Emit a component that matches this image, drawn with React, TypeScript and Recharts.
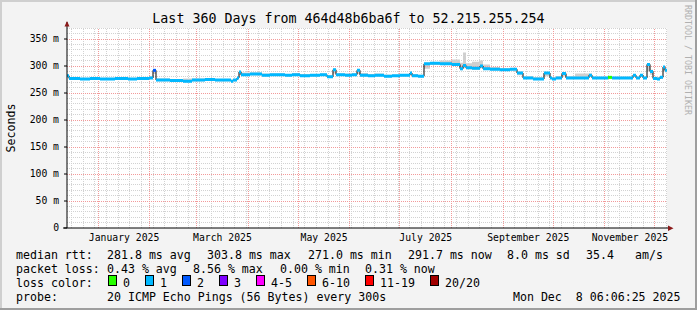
import React from 'react'
import { ComposedChart, Line, Area, XAxis, YAxis, CartesianGrid, ReferenceLine } from 'recharts'

// day 0 = 360 days before Mon Dec 8 2025 06:06:25
const stepDays = [
  0, 1.2, 7.8, 13.8, 19.8, 28.8, 36.6, 42, 49.2, 51.6, 53.4, 61.8, 69.6, 75, 82.8, 88.8,
  98.4, 99.6, 102, 103.2, 104.4, 109.8, 117, 121.8, 130.8, 135, 139.8, 145.8, 151.8, 156,
  159.6, 161.4, 166.8, 171, 174, 175.8, 180.6, 184.8, 190.2, 195, 199.8, 205.8, 207, 210.6,
  214.2, 217.8, 223.8, 231, 235.8, 237.6, 239.4, 243, 247.8, 249.6, 253.8, 259.8, 265.8,
  270, 273.6, 279.6, 286.2, 289.8, 291, 293.4, 297, 299.4, 304.8, 313.2, 315, 319.8, 324.6,
  327, 339.6, 341.4, 343.8, 345.6, 348, 349.8, 351.6, 354, 355.8, 357.6, 358.8,
]
const medianMs = [
  282, 277, 276, 277, 276, 277, 276, 277, 278, 292, 274, 273, 272, 274, 275, 274,
  272, 274, 278, 289, 284, 285, 283, 284, 283, 284, 282, 283, 284, 280,
  293, 284, 283, 284, 292, 283, 282, 283, 281, 282, 283, 287, 282, 281,
  304, 305, 304, 303, 295, 301, 297, 296, 300, 295, 294, 293, 294,
  287, 278, 276, 287, 278, 276, 278, 286, 278, 278, 283, 278, 278, 279,
  278, 283, 278, 283, 278, 303, 290, 277, 276, 279, 298, 292,
]
const smokeLowMs = [
  279, 275, 275, 275, 275, 275, 275, 275, 276, 285, 272, 271, 271, 272, 273, 272,
  271, 272, 276, 283, 282, 283, 281, 282, 281, 282, 280, 281, 282, 278,
  286, 282, 281, 282, 285, 281, 280, 281, 279, 280, 281, 283, 280, 279,
  295, 302, 302, 300, 292, 296, 294, 293, 296, 293, 292, 291, 292,
  283, 276, 274, 281, 276, 274, 276, 281, 276, 276, 280, 276, 276, 277,
  276, 280, 276, 280, 276, 290, 284, 275, 274, 276, 290, 288,
]
const smokeHighMs = [
  284, 279, 278, 279, 278, 279, 278, 279, 281, 294, 277, 276, 277, 277, 277, 276,
  275, 276, 281, 291, 288, 288, 286, 286, 285, 287, 285, 285, 286, 283,
  295, 286, 286, 286, 294, 287, 285, 286, 284, 284, 285, 289, 285, 284,
  306, 307, 310, 312, 306, 325, 305, 308, 310, 303, 298, 296, 296,
  290, 281, 279, 289, 281, 279, 281, 288, 281, 286, 286, 280, 280, 281,
  280, 285, 280, 285, 280, 305, 293, 280, 279, 281, 300, 294,
]
const lossLevel = [
  1, 1, 1, 1, 1, 1, 1, 1, 1, 2, 1, 1, 1, 1, 1, 1,
  1, 1, 1, 1, 1, 1, 1, 1, 1, 1, 1, 1, 1, 1,
  1, 1, 1, 1, 1, 1, 1, 1, 1, 1, 1, 1, 1, 1,
  1, 1, 1, 1, 1, 1, 1, 1, 1, 1, 1, 1, 1,
  1, 1, 1, 1, 1, 1, 1, 1, 1, 1, 1, 1, 1, 0,
  1, 1, 1, 1, 1, 1, 1, 1, 1, 1, 1, 1,
]
const lastDay = 360

const monthStarts = [18.75, 49.75, 77.75, 108.75, 138.75, 169.75, 199.75, 230.75, 261.75, 291.75, 322.75, 352.75]
const labelDays = [34.25, 93.25, 154.25, 215.25, 276.75, 337.75]
const labelNames = ['January 2025', 'March 2025', 'May 2025', 'July 2025', 'September 2025', 'November 2025']
const yTicks = [0, 50, 100, 150, 200, 250, 300, 350]
const yMax = 370.4

const lossLabels = ['0', '1', '2', '3', '4-5', '6-10', '11-19', '20/20']
const lossColors = ['#26ff00', '#00b8ff', '#0059ff', '#7e00ff', '#ff00ff', '#ff5500', '#ff0000', '#a10000']

const MONO = '"DejaVu Sans Mono", monospace'

// weekly minor grid (Mondays), 10 ms minor grid
const weekDays: number[] = []
for (let d = 2.75; d < lastDay; d += 7) weekDays.push(d)
const minorMs: number[] = []
for (let v = 10; v < yMax; v += 10) if (v % 50 !== 0) minorMs.push(v)

function buildRows() {
  const rows: any[] = []
  stepDays.forEach((t, i) => {
    const next = i + 1 < stepDays.length ? stepDays[i + 1] : lastDay
    const base = { med: medianMs[i], band: [smokeLowMs[i], smokeHighMs[i]] }
    const key = `loss${lossLevel[i]}`
    rows.push({ t, ...base, [key]: medianMs[i] })
    rows.push({ t: next, ...base, [key]: medianMs[i] })
    rows.push({ t: next, ...base })
  })
  return rows
}

const legendRows: [number, string][][] = [
  [[16, 'median rtt:'], [107, '281.8 ms avg'], [207, '303.8 ms max'], [308, '271.0 ms min'], [408, '291.7 ms now'], [507, '8.0 ms sd'], [586, '35.4'], [635, 'am/s']],
  [[16, 'packet loss:'], [107, '0.43 % avg'], [193, '8.56 % max'], [280, '0.00 % min'], [365, '0.31 % now']],
  [[16, 'loss color:']],
  [[16, 'probe:'], [107, '20 ICMP Echo Pings (56 Bytes) every 300s']],
]
const boxX = [108.5, 145.5, 182.5, 219.5, 256.5, 307.5, 365.5, 430.5]

export default function App() {
  const rows = buildRows()
  const usedLoss = Array.from(new Set(lossLevel))

  return (
    <div style={{ position: 'absolute', left: 0, top: 0, width: 697, height: 310, background: '#f3f3f3', fontFamily: MONO }}>
      <ComposedChart width={697} height={310} data={rows} margin={{ top: 28, right: 30, bottom: 62, left: 7 }}>
        <CartesianGrid fill="#ffffff" horizontal={false} vertical={false} />
        {weekDays.map((d) => (
          <ReferenceLine key={`w${d}`} x={d} stroke="#d2d2d2" strokeDasharray="1 1" shapeRendering="crispEdges" />
        ))}
        {minorMs.map((v) => (
          <ReferenceLine key={`h${v}`} y={v} stroke="#d2d2d2" strokeDasharray="1 1" shapeRendering="crispEdges" />
        ))}
        {monthStarts.map((d) => (
          <ReferenceLine key={`m${d}`} x={d} stroke="#f29a9a" strokeDasharray="1 1" shapeRendering="crispEdges" />
        ))}
        {yTicks.slice(1).map((v) => (
          <ReferenceLine key={`M${v}`} y={v} stroke="#f29a9a" strokeDasharray="1 1" shapeRendering="crispEdges" />
        ))}
        <XAxis
          type="number"
          dataKey="t"
          domain={[0, lastDay]}
          allowDataOverflow
          ticks={labelDays}
          interval={0}
          height={20}
          tickFormatter={(_v, i) => labelNames[i]}
          tick={{ fontSize: 9.75, fill: '#000', fontFamily: MONO }}
          tickLine={false}
          tickSize={0}
          tickMargin={6}
          axisLine={{ stroke: '#000' }}
        />
        <YAxis
          type="number"
          domain={[0, yMax]}
          allowDataOverflow
          ticks={yTicks}
          interval={0}
          width={60}
          tickFormatter={(v) => (v === 0 ? '0' : `${v} m`)}
          tick={{ fontSize: 9.75, fill: '#000', fontFamily: MONO }}
          tickLine={{ stroke: '#000' }}
          tickSize={3}
          tickMargin={5}
          axisLine={{ stroke: '#000' }}
        />
        <Area dataKey="band" type="linear" stroke="none" fill="#cfcfcf" fillOpacity={1} isAnimationActive={false} />
        <Line dataKey="med" type="linear" stroke="#000" strokeWidth={1} dot={false} isAnimationActive={false} />
        {usedLoss.map((l) => (
          <Line
            key={l}
            dataKey={`loss${l}`}
            type="linear"
            stroke={lossColors[l]}
            strokeWidth={3}
            strokeLinecap="butt"
            dot={false}
            isAnimationActive={false}
          />
        ))}
      </ComposedChart>

      <svg width={697} height={310} style={{ position: 'absolute', left: 0, top: 0, pointerEvents: 'none' }}>
        {/* frame */}
        <rect x={0} y={0} width={697} height={2} fill="#cfcfcf" />
        <rect x={0} y={0} width={2} height={310} fill="#cfcfcf" />
        <rect x={695} y={0} width={2} height={310} fill="#9e9e9e" />
        <rect x={0} y={308} width={697} height={2} fill="#9e9e9e" />

        <text x={348.5} y={23} textAnchor="middle" fontSize={13.3} fontFamily={MONO} fill="#000">
          Last 360 Days from 464d48b6ba6f to 52.215.255.254
        </text>
        <text transform="translate(14.5,128) rotate(-90)" textAnchor="middle" fontSize={11.6} fontFamily={MONO} fill="#000">
          Seconds
        </text>
        <text transform="translate(685,5) rotate(90)" fontSize={8.3} fontFamily={MONO} fill="#b0b0b0">
          RRDTOOL / TOBI OETIKER
        </text>

        {/* axis extensions + arrows */}
        <line x1={67} y1={22} x2={67} y2={28} stroke="#000" />
        <line x1={63} y1={228} x2={67} y2={228} stroke="#000" />
        <line x1={667} y1={228} x2={669} y2={228} stroke="#000" />
        <polygon points="64.5,26.5 69.5,26.5 67,21" fill="#8b1a1a" />
        <polygon points="668,225.5 668,231 673.5,228.3" fill="#8b1a1a" />

        {legendRows.map((row, r) =>
          row.map(([x, s]) => (
            <text key={`${r}-${x}`} x={x} y={258.5 + r * 14} fontSize={11.6} fontFamily={MONO} fill="#000" style={{ whiteSpace: 'pre' }}>
              {s}
            </text>
          ))
        )}
        {lossLabels.map((lab, i) => (
          <g key={lab}>
            <rect x={boxX[i]} y={275.5} width={8} height={10} fill={lossColors[i]} stroke="#000" />
            <text x={boxX[i] + 14.5} y={286.5} fontSize={11.6} fontFamily={MONO} fill="#000">
              {lab}
            </text>
          </g>
        ))}
        <text x={680.5} y={300.5} textAnchor="end" fontSize={11.6} fontFamily={MONO} fill="#000" style={{ whiteSpace: 'pre' }}>
          Mon Dec  8 06:06:25 2025
        </text>
      </svg>
    </div>
  )
}
